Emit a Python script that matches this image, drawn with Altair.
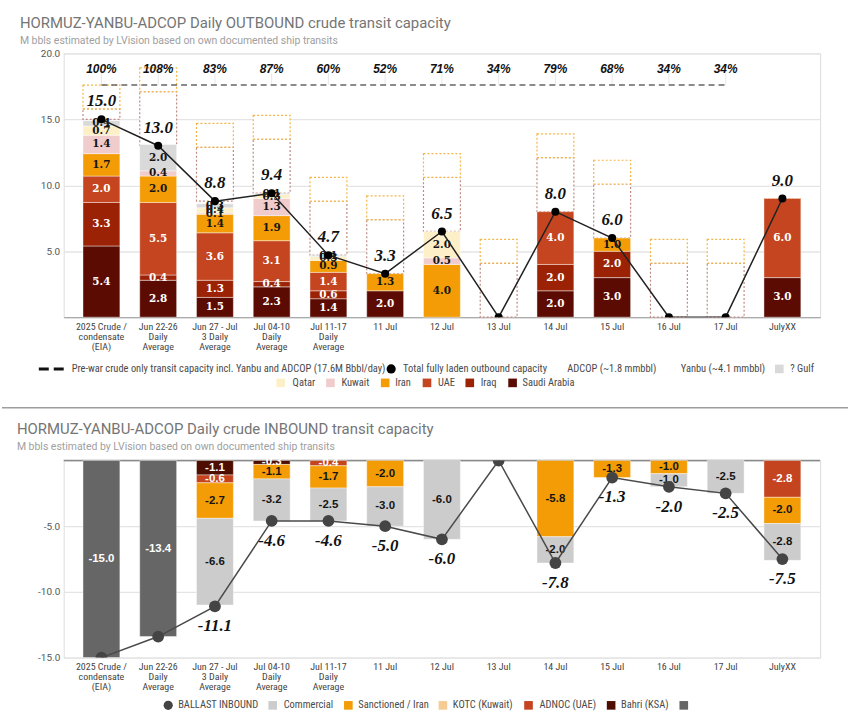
import altair as alt
import pandas as pd

# ---------------- data ----------------
categories = ["2025 Crude /|condensate|(EIA)", "Jun 22-26|Daily|Average",
              "Jun 27 - Jul|3 Daily|Average", "Jul 04-10|Daily|Average",
              "Jul 11-17|Daily|Average", "11 Jul", "12 Jul", "13 Jul",
              "14 Jul", "15 Jul", "16 Jul", "17 Jul", "JulyXX"]

# OUTBOUND (M bbls / day), stacked bottom -> top
saudi_arabia = [5.4, 2.8, 1.5, 2.3, 1.4, 2.0, 0.0, 0.0, 2.0, 3.0, 0.0, 0.0, 3.0]
iraq         = [3.3, 0.4, 1.3, 0.4, 0.6, 0.0, 0.0, 0.0, 2.0, 2.0, 0.0, 0.0, 0.0]
uae          = [2.0, 5.5, 3.6, 3.1, 1.4, 0.0, 0.0, 0.0, 4.0, 0.0, 0.0, 0.0, 6.0]
iran         = [1.7, 2.0, 1.4, 1.9, 0.9, 1.3, 4.0, 0.0, 0.0, 1.0, 0.0, 0.0, 0.0]
kuwait       = [1.4, 0.4, 0.1, 1.3, 0.0, 0.0, 0.5, 0.0, 0.0, 0.0, 0.0, 0.0, 0.0]
qatar        = [0.7, 0.0, 0.4, 0.3, 0.3, 0.0, 2.0, 0.0, 0.0, 0.0, 0.0, 0.0, 0.0]
gulf         = [0.4, 2.0, 0.3, 0.1, 0.1, 0.0, 0.0, 0.0, 0.0, 0.0, 0.0, 0.0, 0.0]
outbound_total = [15.0, 13.0, 8.8, 9.4, 4.7, 3.3, 6.5, 0.0, 8.0, 6.0, 0.0, 0.0, 9.0]
yanbu_capacity = [0.8, 4.1, 4.1, 4.1, 4.1, 4.1, 4.1, 4.1, 4.1, 4.1, 4.1, 4.1, 0.0]
adcop_capacity = [1.8, 1.8, 1.8, 1.8, 1.8, 1.8, 1.8, 1.8, 1.8, 1.8, 1.8, 1.8, 0.0]
pct_labels = ["100%", "108%", "83%", "87%", "60%", "52%", "71%", "34%", "79%",
              "68%", "34%", "34%", ""]
prewar_capacity = 17.6

# INBOUND (M bbls / day), stacked 0 -> down
bahri      = [0.0, 0.0, -1.1, -0.3, 0.0, 0.0, 0.0, 0.0, 0.0, 0.0, 0.0, 0.0, 0.0]
adnoc      = [0.0, 0.0, -0.6, 0.0, -0.4, 0.0, 0.0, 0.0, 0.0, 0.0, 0.0, 0.0, -2.8]
kotc       = [0.0, 0.0, 0.0, 0.0, 0.0, 0.0, 0.0, 0.0, 0.0, 0.0, 0.0, 0.0, 0.0]
sanctioned = [0.0, 0.0, -2.7, -1.1, -1.7, -2.0, 0.0, 0.0, -5.8, -1.3, -1.0, 0.0, -2.0]
commercial = [0.0, 0.0, -6.6, -3.2, -2.5, -3.0, -6.0, 0.0, -2.0, 0.0, -1.0, -2.5, -2.8]
historical = [-15.0, -13.4, 0.0, 0.0, 0.0, 0.0, 0.0, 0.0, 0.0, 0.0, 0.0, 0.0, 0.0]
ballast = [-15.0, -13.4, -11.1, -4.6, -4.6, -5.0, -6.0, 0.0, -7.8, -1.3, -2.0, -2.5, -7.5]
ballast_labels = ["", "", "-11.1", "-4.6", "-4.6", "-5.0", "-6.0", "", "-7.8",
                  "-1.3", "-2.0", "-2.5", "-7.5"]

# ---------------- styling ----------------
FONT = "Roboto"
LFONT = "Liberation Sans Narrow, Roboto Condensed, Roboto"
NUMFONT = "Liberation Serif"
W, HT, HB = 760, 265, 198
LEFT = 62

top_series = ["Saudi Arabia", "Iraq", "UAE", "Iran", "Kuwait", "Qatar", "? Gulf"]
top_colors = ["#5b0b02", "#9b2205", "#c4451f", "#f39c05", "#f1cccc", "#fdf0c9", "#d9d9d9"]
top_dark = {"Saudi Arabia", "Iraq", "UAE"}
bot_series = ["Bahri (KSA)", "ADNOC (UAE)", "KOTC (Kuwait)", "Sanctioned / Iran",
              "Commercial", "Historical"]
bot_colors = ["#4d0e00", "#c4441f", "#f7cb94", "#f39c05", "#cccccc", "#666666"]
bot_dark = {"Bahri (KSA)", "ADNOC (UAE)", "Historical"}

one = pd.DataFrame({"k": [0]})

x_scale = alt.Scale(domain=categories, paddingInner=0.35, paddingOuter=0.34)


def fmt(v):
    return ("-" if v < 0 else "") + f"{abs(v):.1f}"


def xenc(domain=True):
    return alt.X("cat:N", scale=x_scale, sort=categories,
                 axis=alt.Axis(title=None, labelAngle=0,
                               labelExpr="split(datum.label, '|')",
                               labelFont=LFONT, labelFontSize=10, labelColor="#444",
                               labelLineHeight=10, labelPadding=4, ticks=False,
                               domain=domain, domainColor="#aaaaaa", domainWidth=1.2,
                               grid=False))


def yenc(field, lo, hi, vals):
    return alt.Y(f"{field}:Q", scale=alt.Scale(domain=[lo, hi], nice=False, zero=False),
                 axis=alt.Axis(title=None, values=vals,
                               labelExpr="datum.value == 0 ? '' : (datum.value < 0 ? '-' : '') + format(abs(datum.value), '.1f')",
                               labelFont=FONT, labelFontSize=10, labelColor="#555",
                               labelPadding=4, ticks=False, domain=False,
                               gridColor="#e4e4e4", gridWidth=1.3))


def ytop(field):
    return yenc(field, 0, 20, [0, 5, 10, 15, 20])


def ybot(field):
    return yenc(field, -15, 0, [-15, -10, -5, 0])


def legend_layers(entries, y_rel):
    layers = []
    for sym, sx, col, label, tx in entries:
        if sym == "square":
            layers.append(alt.Chart(one).mark_square(size=75, color=col, opacity=1)
                          .encode(x=alt.value(sx - LEFT), y=alt.value(y_rel)))
        elif sym == "circle":
            layers.append(alt.Chart(one).mark_circle(size=85, color=col, opacity=1)
                          .encode(x=alt.value(sx - LEFT), y=alt.value(y_rel)))
        elif sym == "dash":
            layers.append(alt.Chart(one).mark_rule(color=col, strokeWidth=3, strokeDash=[10, 5])
                          .encode(x=alt.value(sx - LEFT), x2=alt.value(sx - LEFT + 27),
                                  y=alt.value(y_rel)))
        if label:
            layers.append(alt.Chart(one).mark_text(text=label, align="left", baseline="middle",
                                                   font=LFONT, fontSize=10.5, color="#4a4a4a")
                          .encode(x=alt.value(tx - LEFT), y=alt.value(y_rel)))
    return layers


def title_layers(title, subtitle, x_rel, y_title, y_sub):
    return [
        alt.Chart(one).mark_text(text=title, align="left", baseline="middle", font=FONT,
                                 fontSize=15, color="#757575")
        .encode(x=alt.value(x_rel), y=alt.value(y_title)),
        alt.Chart(one).mark_text(text=subtitle, align="left", baseline="middle", font=FONT,
                                 fontSize=10.5, color="#a0a0a0")
        .encode(x=alt.value(x_rel), y=alt.value(y_sub)),
    ]


# ---------------- OUTBOUND frames ----------------
rows = []
for i, c in enumerate(categories):
    base = 0.0
    for s, arr in zip(top_series, [saudi_arabia, iraq, uae, iran, kuwait, qatar, gulf]):
        v = arr[i]
        rows.append(dict(cat=c, series=s, value=v, y0=base, y1=base + v, mid=base + v / 2,
                         txt=fmt(v), tcolor="white" if s in top_dark else "#151515"))
        base += v
df_top = pd.DataFrame(rows)

rows = []
for i, c in enumerate(categories):
    b = outbound_total[i]
    rows.append(dict(cat=c, box="Yanbu", y0=b, y1=b + yanbu_capacity[i]))
    rows.append(dict(cat=c, box="ADCOP", y0=b + yanbu_capacity[i],
                     y1=b + yanbu_capacity[i] + adcop_capacity[i]))
df_box = pd.DataFrame(rows)

df_tot = pd.DataFrame({"cat": categories, "total": outbound_total,
                       "idx": list(range(len(categories))), "pct": pct_labels})
df_tot["lbl"] = [fmt(v) for v in outbound_total]
df_pre = pd.DataFrame({"cat": categories[:12], "v": [prewar_capacity] * 12,
                       "v2": [prewar_capacity + 0.9] * 12, "idx": list(range(12))})

boxes = alt.Chart(df_box).mark_bar(fill="white", strokeDash=[2, 2], strokeWidth=1.2).encode(
    x=xenc(), y=ytop("y0"), y2="y1",
    stroke=alt.Stroke("box:N", scale=alt.Scale(domain=["Yanbu", "ADCOP"],
                                               range=["#c08a82", "#f5b546"]), legend=None))
bars = alt.Chart(df_top).transform_filter("datum.value > 0").mark_bar(
    stroke="white", strokeWidth=0.7, strokeOpacity=0.6).encode(
    x=xenc(), y=ytop("y0"), y2="y1",
    color=alt.Color("series:N", scale=alt.Scale(domain=top_series, range=top_colors), legend=None))
seg_text = alt.Chart(df_top).transform_filter("datum.value > 0").mark_text(
    font="DejaVu Serif", fontSize=10.5, fontWeight="bold", baseline="middle").encode(
    x=xenc(), y=ytop("mid"), text="txt:N",
    color=alt.Color("tcolor:N", scale=None))
pct_rules = alt.Chart(df_pre).mark_rule(color="#e8e8e8", strokeWidth=1).encode(
    x=xenc(), y=ytop("v"), y2="v2")
prewar = alt.Chart(df_pre).mark_line(color="#666666", strokeDash=[6, 4], strokeWidth=1.5).encode(
    x=xenc(), y=ytop("v"), order="idx:Q")
pct_text = alt.Chart(df_tot).transform_filter("datum.pct != ''").mark_text(
    font="Liberation Sans", fontStyle="italic", fontWeight="bold", fontSize=12,
    color="#111111", baseline="middle").encode(x=xenc(), y=alt.value(16), text="pct:N")
tot_line = alt.Chart(df_tot).mark_line(color="#222222", strokeWidth=1.5, clip=True).encode(
    x=xenc(), y=ytop("total"), order="idx:Q")
tot_pts = alt.Chart(df_tot).mark_point(filled=True, size=65, color="#000000", opacity=1,
                                        clip=True).encode(x=xenc(), y=ytop("total"))
tot_text = alt.Chart(df_tot).transform_filter("datum.total > 0").mark_text(
    font=NUMFONT, fontStyle="italic", fontWeight="bold", fontSize=17, color="#111111",
    dy=-18, baseline="middle").encode(x=xenc(), y=ytop("total"), text="lbl:N")

anchor = alt.Chart(one).mark_rule(color="white", strokeWidth=1).encode(
    x=alt.value(-LEFT), x2=alt.value(850 - LEFT), y=alt.value(-51))

top_legend = legend_layers([
    ("dash", 37, "#111111", "Pre-war crude only transit capacity incl. Yanbu and ADCOP (17.6M Bbbl/day)", 70),
    ("circle", 391, "#000000", "Total fully laden outbound capacity", 403),
    ("none", 0, "", "ADCOP (~1.8 mmbbl)", 568),
    ("none", 0, "", "Yanbu (~4.1 mmbbl)", 682),
    ("square", 781, "#d9d9d9", "? Gulf", 792),
], 368 - 51) + legend_layers([
    ("square", 280, top_colors[5], "Qatar", 292),
    ("square", 330, top_colors[4], "Kuwait", 341),
    ("square", 385, top_colors[3], "Iran", 395),
    ("square", 427, top_colors[2], "UAE", 438),
    ("square", 470, top_colors[1], "Iraq", 481),
    ("square", 513, top_colors[0], "Saudi Arabia", 523),
], 382 - 51)

top = alt.layer(
    anchor, boxes, bars, seg_text, pct_rules, prewar, pct_text, tot_line, tot_pts, tot_text,
    *title_layers("HORMUZ-YANBU-ADCOP Daily OUTBOUND crude transit capacity",
                  "M bbls estimated by LVision based on own documented ship transits",
                  18 - LEFT, 20 - 51, 39 - 51),
    *top_legend,
).properties(width=W, height=HT)

# ---------------- INBOUND frames ----------------
rows = []
for i, c in enumerate(categories):
    base = 0.0
    for s, arr in zip(bot_series, [bahri, adnoc, kotc, sanctioned, commercial, historical]):
        v = arr[i]
        rows.append(dict(cat=c, fleet=s, value=v, y0=base, y1=base + v, mid=base + v / 2,
                         txt=fmt(v), tcolor="white" if s in bot_dark else "#151515"))
        base += v
df_bot = pd.DataFrame(rows)
df_bal = pd.DataFrame({"cat": categories, "ballast": ballast, "lbl": ballast_labels,
                       "idx": list(range(len(categories)))})
df_zero = pd.DataFrame({"v": [0.0]})

zero_rule = alt.Chart(df_zero).mark_rule(color="#8a8a8a", strokeWidth=1.5).encode(
    y=ybot("v"), x=alt.value(0), x2=alt.value(W))
bbars = alt.Chart(df_bot).transform_filter("datum.value < 0").mark_bar(
    stroke="white", strokeWidth=0.7, strokeOpacity=0.6).encode(
    x=xenc(False), y=ybot("y0"), y2="y1",
    fill=alt.Fill("fleet:N", scale=alt.Scale(domain=bot_series, range=bot_colors), legend=None))
bseg = alt.Chart(df_bot).transform_filter("datum.value < 0").mark_text(
    font="Liberation Sans", fontSize=11.5, fontWeight="bold", baseline="middle").encode(
    x=xenc(False), y=ybot("mid"), text="txt:N",
    color=alt.Color("tcolor:N", scale=None))
bline = alt.Chart(df_bal).mark_line(color="#4a4a4a", strokeWidth=1.5, clip=True).encode(
    x=xenc(False), y=ybot("ballast"), order="idx:Q")
bpts = alt.Chart(df_bal).mark_point(filled=True, size=140, color="#444444", opacity=1,
                                     clip=True).encode(x=xenc(False), y=ybot("ballast"))
btext = alt.Chart(df_bal).transform_filter("datum.lbl != ''").mark_text(
    font=NUMFONT, fontStyle="italic", fontWeight="bold", fontSize=17, color="#111111",
    dy=20, baseline="middle").encode(x=xenc(False), y=ybot("ballast"), text="lbl:N")
separator = alt.Chart(one).mark_rule(color="#9e9e9e", strokeWidth=1.5).encode(
    x=alt.value(-LEFT), x2=alt.value(850 - LEFT), y=alt.value(407 - 460))

bot_legend = legend_layers([
    ("circle", 167, "#444444", "BALLAST INBOUND", 177),
    ("square", 272, bot_colors[4], "Commercial", 283),
    ("square", 348, bot_colors[3], "Sanctioned / Iran", 358),
    ("square", 443, bot_colors[2], "KOTC (Kuwait)", 453),
    ("square", 529, bot_colors[1], "ADNOC (UAE)", 540),
    ("square", 612, bot_colors[0], "Bahri (KSA)", 622),
    ("square", 685, bot_colors[5], "", 0),
], 706 - 460)

bottom = alt.layer(
    separator, zero_rule, bbars, bseg, bline, bpts, btext,
    *title_layers("HORMUZ-YANBU-ADCOP Daily crude INBOUND transit capacity",
                  "M bbls estimated by LVision based on own documented ship transits",
                  15 - LEFT, 428 - 460, 446 - 460),
    *bot_legend,
).properties(width=W, height=HB)

chart = alt.vconcat(top, bottom, spacing=144, bounds="flush").resolve_scale(
    color="independent", fill="independent", stroke="independent", y="independent"
).properties(
    padding={"left": 0, "top": 0, "right": 0, "bottom": 0}
).configure_view(stroke=None).configure(font=FONT)

chart.save("out.html", embed_options={"renderer": "svg", "actions": False})
